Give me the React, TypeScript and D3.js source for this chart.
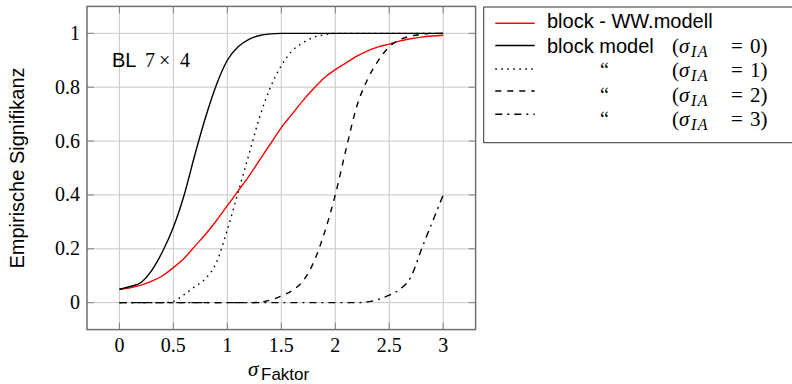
import React from "react";
import * as d3 from "d3";

const xs = [0, 0.1, 0.2, 0.3, 0.4, 0.5, 0.6, 0.7, 0.8, 0.9, 1.0, 1.1, 1.2, 1.3, 1.4, 1.5, 1.6, 1.7, 1.8, 1.9, 2.0, 2.1, 2.2, 2.3, 2.4, 2.5, 2.6, 2.7, 2.8, 2.9, 3.0];

const wwModell = [0.05, 0.055, 0.065, 0.08, 0.1, 0.13, 0.165, 0.21, 0.255, 0.305, 0.36, 0.415, 0.47, 0.53, 0.59, 0.65, 0.7, 0.75, 0.795, 0.835, 0.865, 0.89, 0.915, 0.935, 0.95, 0.96, 0.972, 0.98, 0.986, 0.99, 0.993];
const blockIA0 = [0.05, 0.06, 0.075, 0.12, 0.19, 0.28, 0.4, 0.55, 0.69, 0.81, 0.9, 0.95, 0.978, 0.992, 0.998, 1, 1, 1, 1, 1, 1, 1, 1, 1, 1, 1, 1, 1, 1, 1, 1];
const blockIA1 = [0, 0, 0, 0, 0, 0.005, 0.03, 0.06, 0.09, 0.15, 0.27, 0.41, 0.55, 0.69, 0.8, 0.88, 0.935, 0.965, 0.985, 0.995, 1, 1, 1, 1, 1, 1, 1, 1, 1, 1, 1];
const blockIA2 = [0, 0, 0, 0, 0, 0, 0, 0, 0, 0, 0, 0, 0, 0.002, 0.01, 0.025, 0.045, 0.08, 0.15, 0.26, 0.4, 0.57, 0.73, 0.83, 0.9, 0.95, 0.977, 0.99, 0.996, 1, 1];
const blockIA3 = [0, 0, 0, 0, 0, 0, 0, 0, 0, 0, 0, 0, 0, 0, 0, 0, 0, 0, 0, 0, 0, 0, 0, 0.003, 0.012, 0.028, 0.05, 0.095, 0.2, 0.3, 0.4];

const xTicks = [0, 0.5, 1, 1.5, 2, 2.5, 3];
const yTicks = [0, 0.2, 0.4, 0.6, 0.8, 1];
const iaLevels = ["0", "1", "2", "3"];

const serif = "'Liberation Serif', 'DejaVu Serif', serif";
const sans = "'Liberation Sans', Arial, sans-serif";

const series = [
  { name: "ww", values: wwModell, color: "#ff0000", dash: "none" },
  { name: "ia0", values: blockIA0, color: "#000", dash: "none" },
  { name: "ia1", values: blockIA1, color: "#000", dash: "1.6 4.4" },
  { name: "ia2", values: blockIA2, color: "#000", dash: "6 6" },
  { name: "ia3", values: blockIA3, color: "#000", dash: "7 5 2 5" },
];

export default function App() {
  const x = d3.scaleLinear().domain([-0.3, 3.3]).range([87, 475.6]);
  const y = d3.scaleLinear().domain([-0.1, 1.1]).range([329.6, 6.4]);
  const [x0, x1] = x.range();
  const [y0, y1] = y.range();
  const line = d3
    .line<number>()
    .x((_, i) => x(xs[i]))
    .y((d) => y(d))
    .curve(d3.curveMonotoneX);

  const legendRows = [23.3, 45.5, 69, 91, 114.3];
  const textRows = [28.3, 53.3, 77.3, 101.5, 125.5];

  const mathPart = (lvl: string, base: number, key: string) => (
    <g key={key} fontFamily={serif}>
      <text x={672} y={base} fontSize={21}>(</text>
      <text x={679} y={base} fontSize={21} fontStyle="italic">σ</text>
      <text x={691} y={base + 4} fontSize={16} fontStyle="italic" letterSpacing={1.5}>IA</text>
      <text x={731} y={base} fontSize={21}>=</text>
      <text x={750} y={base} fontSize={21}>{lvl}</text>
      <text x={760.5} y={base} fontSize={21}>)</text>
    </g>
  );

  return (
    <svg width={792} height={384} style={{ position: "absolute", left: 0, top: 0, background: "#fff" }}>
      {/* grid */}
      {xTicks.map((t) => (
        <line key={"gx" + t} x1={x(t)} x2={x(t)} y1={y1} y2={y0} stroke="#c8c8c8" strokeWidth={1} />
      ))}
      {yTicks.map((t) => (
        <line key={"gy" + t} x1={x0} x2={x1} y1={y(t)} y2={y(t)} stroke="#c8c8c8" strokeWidth={1} />
      ))}
      {/* tick marks */}
      {xTicks.map((t) => (
        <g key={"tx" + t} stroke="#808080" strokeWidth={1}>
          <line x1={x(t)} x2={x(t)} y1={y0} y2={y0 - 7} />
          <line x1={x(t)} x2={x(t)} y1={y1} y2={y1 + 7} />
        </g>
      ))}
      {yTicks.map((t) => (
        <g key={"ty" + t} stroke="#808080" strokeWidth={1}>
          <line x1={x0} x2={x0 + 7} y1={y(t)} y2={y(t)} />
          <line x1={x1} x2={x1 - 7} y1={y(t)} y2={y(t)} />
        </g>
      ))}
      {/* curves */}
      <g clipPath="url(#clip)">
        {series.map((s) => (
          <path
            key={s.name}
            d={line(s.values) || ""}
            fill="none"
            stroke={s.color}
            strokeWidth={1.4}
            strokeDasharray={s.dash}
          />
        ))}
      </g>
      <defs>
        <clipPath id="clip">
          <rect x={x0} y={y1} width={x1 - x0} height={y0 - y1} />
        </clipPath>
      </defs>
      {/* frame */}
      <rect x={x0} y={y1} width={x1 - x0} height={y0 - y1} fill="none" stroke="#707070" strokeWidth={1.5} />
      {/* tick labels */}
      {xTicks.map((t) => (
        <text key={"lx" + t} x={x(t)} y={351.7} textAnchor="middle" fontFamily={serif} fontSize={20}>
          {String(t)}
        </text>
      ))}
      {yTicks.map((t) => (
        <text key={"ly" + t} x={80} y={y(t) + 6.5} textAnchor="end" fontFamily={serif} fontSize={20}>
          {String(t)}
        </text>
      ))}
      {/* axis labels */}
      <text x={248} y={376} fontFamily={serif} fontStyle="italic" fontSize={21}>σ</text>
      <text x={261} y={379.5} fontFamily={sans} fontSize={17}>Faktor</text>
      <text
        transform="translate(24,168) rotate(-90)"
        textAnchor="middle"
        fontFamily={sans}
        fontSize={20}
      >
        Empirische Signifikanz
      </text>
      {/* annotation */}
      <text x={112} y={66.7} fontFamily={sans} fontSize={20}>BL</text>
      <text x={145} y={66.7} fontFamily={serif} fontSize={20}>7</text>
      <text x={159} y={66.7} fontFamily={serif} fontSize={20}>×</text>
      <text x={180} y={66.7} fontFamily={serif} fontSize={20}>4</text>
      {/* legend */}
      <rect x={483.7} y={7} width={320} height={135.7} fill="#fff" stroke="#333" strokeWidth={1} />
      {series.map((s, i) => (
        <line
          key={"leg" + s.name}
          x1={495.3}
          x2={534.7}
          y1={legendRows[i]}
          y2={legendRows[i]}
          stroke={s.color}
          strokeWidth={1.4}
          strokeDasharray={s.dash}
        />
      ))}
      <text x={547} y={textRows[0]} fontFamily={sans} fontSize={20}>block - WW.modell</text>
      <text x={547} y={textRows[1]} fontFamily={sans} fontSize={20}>block model</text>
      {iaLevels.map((lvl, i) => mathPart(lvl, textRows[i + 1], "m" + lvl))}
      {iaLevels.slice(1).map((lvl, i) => (
        <text key={"q" + lvl} x={600} y={textRows[i + 2]} fontFamily={serif} fontSize={20}>
          “
        </text>
      ))}
    </svg>
  );
}
